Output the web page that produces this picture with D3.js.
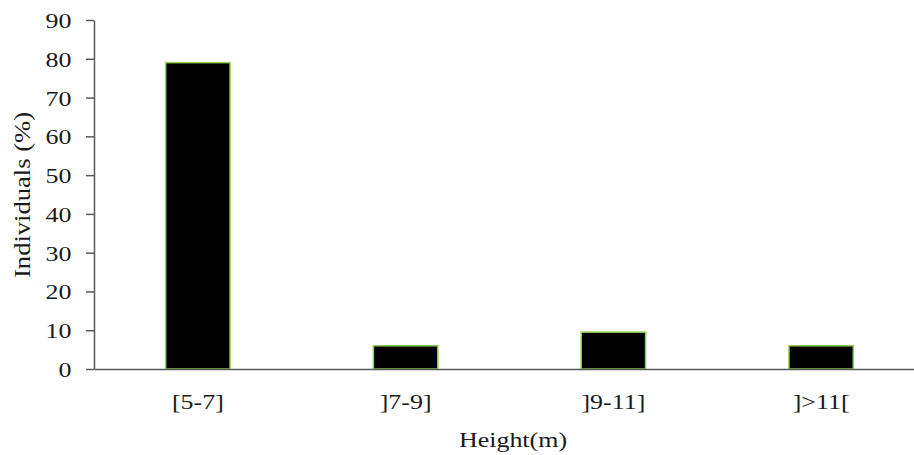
<!DOCTYPE html>
<html>
<head>
<meta charset="utf-8">
<script src="https://cdn.jsdelivr.net/npm/d3@7"></script>
<style>
  body { margin: 0; background: #fff; }
  text { font-family: "Liberation Serif", "Times New Roman", serif; fill: #1a1a1a; }
</style>
</head>
<body>
<div id="container"></div>
<script>
/** DATA */
const categories = ["[5-7]", "]7-9]", "]9-11]", "]>11["];
const individuals = [79, 6, 9.5, 6];
const yTicks = [0, 10, 20, 30, 40, 50, 60, 70, 80, 90];

/** CONSTANTS */
const width = 914,
  height = 455,
  margin = { top: 20, left: 94, bottom: 86 };
const stretch = 1.18; // text in the picture is wider than tall

const svg = d3.select("#container")
  .append("svg")
  .attr("width", width)
  .attr("height", height);

const x = d3.scaleBand()
  .domain(categories)
  .range([margin.left, 925])
  .paddingInner(0.69)
  .paddingOuter(0.345);

const y = d3.scaleLinear()
  .domain([0, 90])
  .range([height - margin.bottom, margin.top]);

// bars
svg.selectAll(".bar")
  .data(categories)
  .join("rect")
  .attr("class", "bar")
  .attr("x", d => x(d))
  .attr("y", (d, i) => y(individuals[i]))
  .attr("width", x.bandwidth())
  .attr("height", (d, i) => y(0) - y(individuals[i]))
  .attr("fill", "#000")
  .attr("stroke", "#92d050")
  .attr("stroke-width", 1.5);

// y axis
const yAxis = svg.append("g")
  .attr("transform", `translate(${margin.left},0)`)
  .call(d3.axisLeft(y).tickValues(yTicks).tickSize(8).tickSizeOuter(0));

yAxis.selectAll("text")
  .attr("x", -22.5 / stretch)
  .attr("dy", "0.34em")
  .attr("transform", `scale(${stretch},1)`)
  .style("font-size", "22px");

// x axis
const xAxis = svg.append("g")
  .attr("transform", `translate(0,${y(0)})`)
  .call(d3.axisBottom(x).tickSize(0).tickSizeOuter(0));

xAxis.selectAll(".tick text")
  .attr("y", 40)
  .attr("dy", 0)
  .attr("transform", `scale(${stretch},1)`)
  .style("font-size", "22px");

svg.selectAll(".domain, .tick line")
  .attr("stroke", "#595959")
  .attr("stroke-width", 1.5);

// axis titles
svg.append("text")
  .attr("transform", `translate(513,447) scale(${stretch},1)`)
  .attr("text-anchor", "middle")
  .style("font-size", "22px")
  .text("Height(m)");

svg.append("text")
  .attr("transform", `translate(30,195) rotate(-90)`)
  .attr("text-anchor", "middle")
  .attr("textLength", 166)
  .attr("lengthAdjust", "spacingAndGlyphs")
  .style("font-size", "23px")
  .text("Individuals (%)");
</script>
</body>
</html>
